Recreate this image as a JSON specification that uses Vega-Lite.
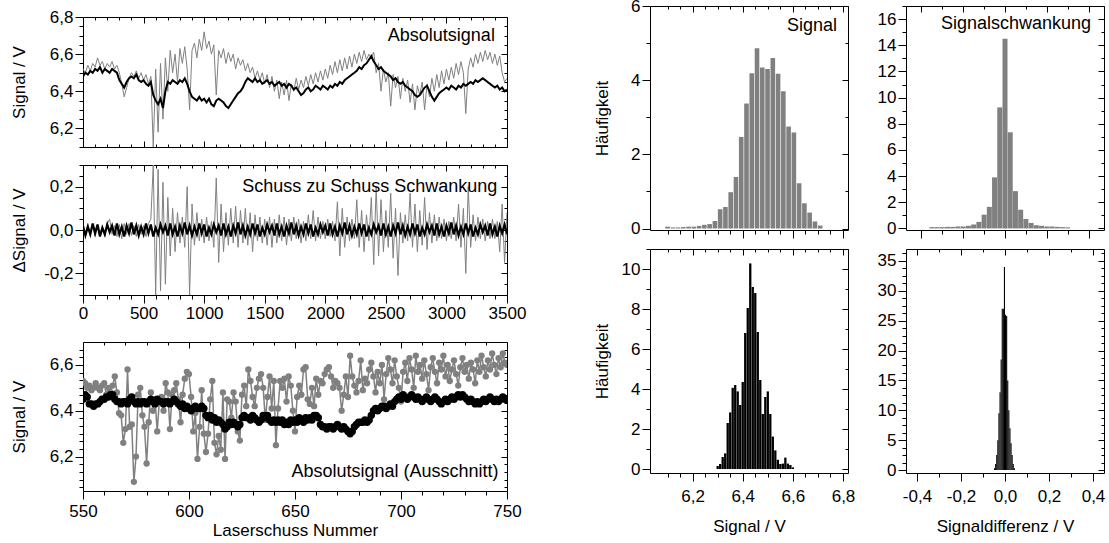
{
"$schema":"https://vega.github.io/schema/vega-lite/v6.json",
"padding":{"left":9,"top":-4,"right":0,"bottom":0},
"spacing":65,
"config":{
 "font":"Liberation Sans",
 "view":{"stroke":"#000","strokeWidth":1},
 "axis":{"domain":false,"grid":false,"tickColor":"#000","tickWidth":1,"labelFont":"Liberation Sans","labelFontSize":17,"labelColor":"#000","labelPadding":2,"labelOverlap":false,"labelFlush":false,"labelBound":false,"titleFont":"Liberation Sans","titleFontSize":17,"titleFontWeight":"normal","titleColor":"#000"},
 "text":{"font":"Liberation Sans","fontSize":18,"color":"#000"}
},
"datasets":{
"ts":[
{"x":0,"g":6.52,"b":6.48,"dg":0.02,"db":0.02},{"x":20,"g":6.50,"b":6.50,"dg":-0.02,"db":-0.025},{"x":40,"g":6.54,"b":6.49,"dg":0.03,"db":0.015},{"x":60,"g":6.51,"b":6.51,"dg":-0.025,"db":-0.02},{"x":80,"g":6.55,"b":6.50,"dg":0.02,"db":0.03},{"x":100,"g":6.53,"b":6.52,"dg":-0.03,"db":-0.015},{"x":120,"g":6.58,"b":6.51,"dg":0.025,"db":0.025},{"x":140,"g":6.54,"b":6.53,"dg":-0.02,"db":-0.03},{"x":160,"g":6.56,"b":6.50,"dg":0.02,"db":0.01},{"x":180,"g":6.52,"b":6.52,"dg":-0.03,"db":-0.02},
{"x":200,"g":6.55,"b":6.51,"dg":0.03,"db":0.025},{"x":220,"g":6.53,"b":6.50,"dg":0.05,"db":-0.01},{"x":240,"g":6.56,"b":6.52,"dg":-0.02,"db":0.02},{"x":260,"g":6.52,"b":6.51,"dg":0.02,"db":-0.025},{"x":280,"g":6.54,"b":6.50,"dg":-0.03,"db":0.03},{"x":300,"g":6.50,"b":6.46,"dg":0.025,"db":-0.02},{"x":320,"g":6.44,"b":6.44,"dg":-0.04,"db":0.015},{"x":340,"g":6.37,"b":6.42,"dg":0.03,"db":-0.03},{"x":360,"g":6.42,"b":6.45,"dg":-0.02,"db":0.02},{"x":380,"g":6.47,"b":6.47,"dg":0.03,"db":-0.015},
{"x":400,"g":6.50,"b":6.48,"dg":-0.025,"db":0.035},{"x":420,"g":6.48,"b":6.47,"dg":0.02,"db":-0.02},{"x":440,"g":6.51,"b":6.49,"dg":-0.03,"db":0.02},{"x":460,"g":6.47,"b":6.46,"dg":0.025,"db":-0.025},{"x":480,"g":6.50,"b":6.45,"dg":-0.02,"db":0.015},{"x":500,"g":6.46,"b":6.46,"dg":0.02,"db":-0.02},{"x":520,"g":6.49,"b":6.44,"dg":-0.03,"db":0.03},{"x":540,"g":6.44,"b":6.43,"dg":0.03,"db":-0.015},{"x":560,"g":6.48,"b":6.45,"dg":0.05,"db":0.025},{"x":580,"g":6.10,"b":6.38,"dg":0.30,"db":-0.03},
{"x":600,"g":6.52,"b":6.35,"dg":-0.30,"db":0.01},{"x":620,"g":6.18,"b":6.33,"dg":0.28,"db":-0.02},{"x":640,"g":6.55,"b":6.36,"dg":-0.28,"db":0.025},{"x":660,"g":6.25,"b":6.31,"dg":0.22,"db":-0.01},{"x":680,"g":6.58,"b":6.40,"dg":-0.25,"db":0.02},{"x":700,"g":6.40,"b":6.45,"dg":0.15,"db":-0.025},{"x":720,"g":6.62,"b":6.44,"dg":-0.12,"db":0.03},{"x":740,"g":6.50,"b":6.46,"dg":0.10,"db":-0.02},{"x":760,"g":6.60,"b":6.45,"dg":-0.10,"db":0.015},{"x":780,"g":6.45,"b":6.44,"dg":0.08,"db":-0.03},
{"x":800,"g":6.63,"b":6.46,"dg":-0.06,"db":0.02},{"x":820,"g":6.55,"b":6.45,"dg":0.06,"db":-0.015},{"x":840,"g":6.64,"b":6.47,"dg":-0.08,"db":0.035},{"x":860,"g":6.52,"b":6.44,"dg":0.20,"db":-0.02},{"x":880,"g":6.30,"b":6.40,"dg":-0.30,"db":0.02},{"x":900,"g":6.62,"b":6.37,"dg":0.12,"db":-0.025},{"x":920,"g":6.66,"b":6.36,"dg":-0.07,"db":0.015},{"x":940,"g":6.58,"b":6.35,"dg":0.08,"db":-0.02},{"x":960,"g":6.68,"b":6.37,"dg":-0.05,"db":0.03},{"x":980,"g":6.62,"b":6.35,"dg":0.05,"db":-0.015},
{"x":1000,"g":6.72,"b":6.36,"dg":-0.06,"db":0.025},{"x":1020,"g":6.63,"b":6.34,"dg":0.06,"db":-0.03},{"x":1040,"g":6.67,"b":6.36,"dg":-0.05,"db":0.01},{"x":1060,"g":6.60,"b":6.33,"dg":0.04,"db":-0.02},{"x":1080,"g":6.65,"b":6.32,"dg":-0.08,"db":0.025},{"x":1100,"g":6.38,"b":6.35,"dg":0.24,"db":-0.01},{"x":1120,"g":6.62,"b":6.36,"dg":-0.15,"db":0.02},{"x":1140,"g":6.58,"b":6.35,"dg":0.12,"db":-0.025},{"x":1160,"g":6.63,"b":6.34,"dg":-0.10,"db":0.03},{"x":1180,"g":6.55,"b":6.32,"dg":0.08,"db":-0.02},
{"x":1200,"g":6.61,"b":6.31,"dg":-0.07,"db":0.015},{"x":1220,"g":6.56,"b":6.33,"dg":0.10,"db":-0.03},{"x":1240,"g":6.60,"b":6.35,"dg":-0.06,"db":0.02},{"x":1260,"g":6.52,"b":6.37,"dg":0.11,"db":-0.015},{"x":1280,"g":6.58,"b":6.39,"dg":-0.08,"db":0.035},{"x":1300,"g":6.54,"b":6.40,"dg":0.09,"db":-0.02},{"x":1320,"g":6.57,"b":6.42,"dg":-0.06,"db":0.02},{"x":1340,"g":6.51,"b":6.45,"dg":0.10,"db":-0.025},{"x":1360,"g":6.55,"b":6.47,"dg":-0.07,"db":0.015},{"x":1380,"g":6.50,"b":6.46,"dg":0.08,"db":-0.02},
{"x":1400,"g":6.53,"b":6.45,"dg":-0.10,"db":0.03},{"x":1420,"g":6.47,"b":6.47,"dg":0.07,"db":-0.015},{"x":1440,"g":6.51,"b":6.45,"dg":-0.05,"db":0.025},{"x":1460,"g":6.46,"b":6.46,"dg":0.06,"db":-0.03},{"x":1480,"g":6.50,"b":6.44,"dg":-0.06,"db":0.01},{"x":1500,"g":6.44,"b":6.45,"dg":0.05,"db":-0.02},{"x":1520,"g":6.49,"b":6.46,"dg":-0.07,"db":0.025},{"x":1540,"g":6.42,"b":6.44,"dg":0.06,"db":-0.01},{"x":1560,"g":6.48,"b":6.45,"dg":-0.08,"db":0.02},{"x":1580,"g":6.40,"b":6.43,"dg":0.05,"db":-0.025},
{"x":1600,"g":6.46,"b":6.44,"dg":-0.06,"db":0.03},{"x":1620,"g":6.36,"b":6.45,"dg":0.07,"db":-0.02},{"x":1640,"g":6.45,"b":6.43,"dg":-0.05,"db":0.015},{"x":1660,"g":6.38,"b":6.44,"dg":0.06,"db":-0.03},{"x":1680,"g":6.46,"b":6.42,"dg":-0.07,"db":0.02},{"x":1700,"g":6.35,"b":6.44,"dg":0.05,"db":-0.015},{"x":1720,"g":6.44,"b":6.43,"dg":-0.05,"db":0.035},{"x":1740,"g":6.40,"b":6.41,"dg":0.06,"db":-0.02},{"x":1760,"g":6.47,"b":6.42,"dg":-0.04,"db":0.02},{"x":1780,"g":6.41,"b":6.40,"dg":0.05,"db":-0.025},
{"x":1800,"g":6.46,"b":6.38,"dg":-0.06,"db":0.015},{"x":1820,"g":6.42,"b":6.39,"dg":0.04,"db":-0.02},{"x":1840,"g":6.48,"b":6.41,"dg":-0.05,"db":0.03},{"x":1860,"g":6.43,"b":6.42,"dg":0.07,"db":-0.015},{"x":1880,"g":6.49,"b":6.40,"dg":-0.04,"db":0.025},{"x":1900,"g":6.44,"b":6.41,"dg":0.09,"db":-0.03},{"x":1920,"g":6.50,"b":6.43,"dg":-0.05,"db":0.01},{"x":1940,"g":6.45,"b":6.42,"dg":0.06,"db":-0.02},{"x":1960,"g":6.51,"b":6.41,"dg":-0.04,"db":0.025},{"x":1980,"g":6.46,"b":6.43,"dg":0.04,"db":-0.01},
{"x":2000,"g":6.52,"b":6.42,"dg":-0.04,"db":0.02},{"x":2020,"g":6.47,"b":6.41,"dg":0.05,"db":-0.025},{"x":2040,"g":6.54,"b":6.43,"dg":-0.03,"db":0.03},{"x":2060,"g":6.49,"b":6.42,"dg":0.04,"db":-0.02},{"x":2080,"g":6.56,"b":6.44,"dg":-0.05,"db":0.015},{"x":2100,"g":6.50,"b":6.43,"dg":0.13,"db":-0.03},{"x":2120,"g":6.57,"b":6.45,"dg":-0.12,"db":0.02},{"x":2140,"g":6.51,"b":6.44,"dg":0.10,"db":-0.015},{"x":2160,"g":6.58,"b":6.46,"dg":-0.08,"db":0.035},{"x":2180,"g":6.52,"b":6.47,"dg":0.06,"db":-0.02},
{"x":2200,"g":6.59,"b":6.48,"dg":-0.05,"db":0.02},{"x":2220,"g":6.53,"b":6.49,"dg":0.05,"db":-0.025},{"x":2240,"g":6.60,"b":6.50,"dg":-0.04,"db":0.015},{"x":2260,"g":6.55,"b":6.51,"dg":0.14,"db":-0.02},{"x":2280,"g":6.61,"b":6.53,"dg":-0.08,"db":0.03},{"x":2300,"g":6.56,"b":6.52,"dg":0.09,"db":-0.015},{"x":2320,"g":6.62,"b":6.54,"dg":-0.10,"db":0.025},{"x":2340,"g":6.57,"b":6.55,"dg":0.07,"db":-0.03},{"x":2360,"g":6.60,"b":6.57,"dg":-0.05,"db":0.01},{"x":2380,"g":6.58,"b":6.59,"dg":0.15,"db":-0.02},
{"x":2400,"g":6.61,"b":6.56,"dg":-0.16,"db":0.025},{"x":2420,"g":6.50,"b":6.54,"dg":0.20,"db":-0.01},{"x":2440,"g":6.55,"b":6.52,"dg":-0.12,"db":0.02},{"x":2460,"g":6.40,"b":6.53,"dg":0.14,"db":-0.025},{"x":2480,"g":6.52,"b":6.51,"dg":-0.10,"db":0.03},{"x":2500,"g":6.45,"b":6.50,"dg":0.09,"db":-0.02},{"x":2520,"g":6.50,"b":6.49,"dg":-0.08,"db":0.015},{"x":2540,"g":6.32,"b":6.48,"dg":0.17,"db":-0.03},{"x":2560,"g":6.49,"b":6.46,"dg":-0.13,"db":0.02},{"x":2580,"g":6.42,"b":6.47,"dg":0.10,"db":-0.015},
{"x":2600,"g":6.48,"b":6.45,"dg":-0.21,"db":0.035},{"x":2620,"g":6.36,"b":6.44,"dg":0.08,"db":-0.02},{"x":2640,"g":6.47,"b":6.45,"dg":-0.06,"db":0.02},{"x":2660,"g":6.40,"b":6.43,"dg":0.07,"db":-0.025},{"x":2680,"g":6.46,"b":6.42,"dg":-0.05,"db":0.015},{"x":2700,"g":6.34,"b":6.41,"dg":0.17,"db":-0.02},{"x":2720,"g":6.44,"b":6.40,"dg":-0.08,"db":0.03},{"x":2740,"g":6.30,"b":6.38,"dg":0.12,"db":-0.015},{"x":2760,"g":6.43,"b":6.37,"dg":-0.10,"db":0.025},{"x":2780,"g":6.38,"b":6.38,"dg":0.09,"db":-0.03},
{"x":2800,"g":6.45,"b":6.40,"dg":-0.07,"db":0.01},{"x":2820,"g":6.30,"b":6.42,"dg":0.15,"db":-0.02},{"x":2840,"g":6.44,"b":6.43,"dg":-0.09,"db":0.025},{"x":2860,"g":6.37,"b":6.40,"dg":0.08,"db":-0.01},{"x":2880,"g":6.47,"b":6.37,"dg":-0.06,"db":0.02},{"x":2900,"g":6.40,"b":6.35,"dg":0.07,"db":-0.025},{"x":2920,"g":6.49,"b":6.37,"dg":-0.05,"db":0.03},{"x":2940,"g":6.42,"b":6.39,"dg":0.06,"db":-0.02},{"x":2960,"g":6.51,"b":6.40,"dg":-0.04,"db":0.015},{"x":2980,"g":6.44,"b":6.41,"dg":0.05,"db":-0.03},
{"x":3000,"g":6.52,"b":6.42,"dg":-0.05,"db":0.02},{"x":3020,"g":6.46,"b":6.41,"dg":0.04,"db":-0.015},{"x":3040,"g":6.53,"b":6.43,"dg":-0.04,"db":0.035},{"x":3060,"g":6.47,"b":6.42,"dg":0.06,"db":-0.02},{"x":3080,"g":6.55,"b":6.41,"dg":-0.05,"db":0.02},{"x":3100,"g":6.49,"b":6.43,"dg":0.12,"db":-0.025},{"x":3120,"g":6.56,"b":6.42,"dg":-0.08,"db":0.015},{"x":3140,"g":6.50,"b":6.44,"dg":0.10,"db":-0.02},{"x":3160,"g":6.28,"b":6.43,"dg":-0.20,"db":0.03},{"x":3180,"g":6.52,"b":6.44,"dg":0.20,"db":-0.015},
{"x":3200,"g":6.58,"b":6.45,"dg":-0.08,"db":0.025},{"x":3220,"g":6.53,"b":6.44,"dg":0.07,"db":-0.03},{"x":3240,"g":6.60,"b":6.46,"dg":-0.05,"db":0.01},{"x":3260,"g":6.55,"b":6.45,"dg":0.06,"db":-0.02},{"x":3280,"g":6.61,"b":6.46,"dg":-0.04,"db":0.025},{"x":3300,"g":6.56,"b":6.47,"dg":0.05,"db":-0.01},{"x":3320,"g":6.62,"b":6.46,"dg":-0.05,"db":0.02},{"x":3340,"g":6.57,"b":6.45,"dg":0.04,"db":-0.025},{"x":3360,"g":6.61,"b":6.44,"dg":-0.04,"db":0.03},{"x":3380,"g":6.55,"b":6.43,"dg":0.05,"db":-0.02},
{"x":3400,"g":6.60,"b":6.42,"dg":-0.04,"db":0.015},{"x":3420,"g":6.54,"b":6.43,"dg":0.04,"db":-0.03},{"x":3440,"g":6.59,"b":6.41,"dg":-0.10,"db":0.02},{"x":3460,"g":6.50,"b":6.42,"dg":0.12,"db":-0.015},{"x":3480,"g":6.45,"b":6.40,"dg":-0.15,"db":0.025},{"x":3500,"g":6.47,"b":6.41,"dg":0.08,"db":-0.02}
],
"zm":[
{"x":550,"g":6.53,"b":6.45},{"x":551,"g":6.52,"b":6.47},{"x":552,"g":6.50,"b":6.46},{"x":553,"g":6.51,"b":6.43},{"x":554,"g":6.49,"b":6.43},{"x":555,"g":6.50,"b":6.42},{"x":556,"g":6.52,"b":6.43},{"x":557,"g":6.50,"b":6.43},{"x":558,"g":6.49,"b":6.44},{"x":559,"g":6.51,"b":6.45},
{"x":560,"g":6.52,"b":6.45},{"x":561,"g":6.47,"b":6.46},{"x":562,"g":6.50,"b":6.46},{"x":563,"g":6.48,"b":6.47},{"x":564,"g":6.51,"b":6.47},{"x":565,"g":6.55,"b":6.45},{"x":566,"g":6.48,"b":6.44},{"x":567,"g":6.39,"b":6.44},{"x":568,"g":6.38,"b":6.43},{"x":569,"g":6.26,"b":6.44},
{"x":570,"g":6.32,"b":6.44},{"x":571,"g":6.58,"b":6.43},{"x":572,"g":6.33,"b":6.45},{"x":573,"g":6.34,"b":6.46},{"x":574,"g":6.09,"b":6.44},{"x":575,"g":6.20,"b":6.43},{"x":576,"g":6.47,"b":6.44},{"x":577,"g":6.50,"b":6.43},{"x":578,"g":6.38,"b":6.44},{"x":579,"g":6.33,"b":6.44},
{"x":580,"g":6.17,"b":6.43},{"x":581,"g":6.35,"b":6.44},{"x":582,"g":6.48,"b":6.45},{"x":583,"g":6.40,"b":6.44},{"x":584,"g":6.45,"b":6.43},{"x":585,"g":6.31,"b":6.45},{"x":586,"g":6.44,"b":6.44},{"x":587,"g":6.46,"b":6.44},{"x":588,"g":6.40,"b":6.43},{"x":589,"g":6.52,"b":6.44},
{"x":590,"g":6.48,"b":6.44},{"x":591,"g":6.32,"b":6.43},{"x":592,"g":6.47,"b":6.44},{"x":593,"g":6.49,"b":6.45},{"x":594,"g":6.52,"b":6.44},{"x":595,"g":6.45,"b":6.43},{"x":596,"g":6.35,"b":6.42},{"x":597,"g":6.47,"b":6.43},{"x":598,"g":6.54,"b":6.41},{"x":599,"g":6.57,"b":6.42},
{"x":600,"g":6.56,"b":6.41},{"x":601,"g":6.46,"b":6.40},{"x":602,"g":6.31,"b":6.41},{"x":603,"g":6.39,"b":6.42},{"x":604,"g":6.19,"b":6.41},{"x":605,"g":6.33,"b":6.41},{"x":606,"g":6.49,"b":6.42},{"x":607,"g":6.30,"b":6.41},{"x":608,"g":6.22,"b":6.38},{"x":609,"g":6.30,"b":6.37},
{"x":610,"g":6.45,"b":6.38},{"x":611,"g":6.53,"b":6.36},{"x":612,"g":6.26,"b":6.37},{"x":613,"g":6.21,"b":6.35},{"x":614,"g":6.29,"b":6.36},{"x":615,"g":6.23,"b":6.35},{"x":616,"g":6.48,"b":6.34},{"x":617,"g":6.19,"b":6.32},{"x":618,"g":6.45,"b":6.33},{"x":619,"g":6.44,"b":6.35},
{"x":620,"g":6.37,"b":6.34},{"x":621,"g":6.48,"b":6.35},{"x":622,"g":6.44,"b":6.34},{"x":623,"g":6.31,"b":6.33},{"x":624,"g":6.27,"b":6.34},{"x":625,"g":6.47,"b":6.37},{"x":626,"g":6.51,"b":6.38},{"x":627,"g":6.42,"b":6.37},{"x":628,"g":6.58,"b":6.37},{"x":629,"g":6.53,"b":6.36},
{"x":630,"g":6.46,"b":6.38},{"x":631,"g":6.42,"b":6.37},{"x":632,"g":6.50,"b":6.36},{"x":633,"g":6.54,"b":6.35},{"x":634,"g":6.56,"b":6.36},{"x":635,"g":6.50,"b":6.38},{"x":636,"g":6.36,"b":6.37},{"x":637,"g":6.46,"b":6.38},{"x":638,"g":6.55,"b":6.36},{"x":639,"g":6.41,"b":6.35},
{"x":640,"g":6.53,"b":6.36},{"x":641,"g":6.25,"b":6.35},{"x":642,"g":6.41,"b":6.36},{"x":643,"g":6.53,"b":6.35},{"x":644,"g":6.50,"b":6.36},{"x":645,"g":6.54,"b":6.34},{"x":646,"g":6.44,"b":6.35},{"x":647,"g":6.55,"b":6.34},{"x":648,"g":6.51,"b":6.36},{"x":649,"g":6.40,"b":6.35},
{"x":650,"g":6.31,"b":6.36},{"x":651,"g":6.46,"b":6.35},{"x":652,"g":6.51,"b":6.37},{"x":653,"g":6.47,"b":6.36},{"x":654,"g":6.58,"b":6.35},{"x":655,"g":6.59,"b":6.37},{"x":656,"g":6.45,"b":6.36},{"x":657,"g":6.43,"b":6.37},{"x":658,"g":6.50,"b":6.36},{"x":659,"g":6.42,"b":6.38},
{"x":660,"g":6.54,"b":6.38},{"x":661,"g":6.47,"b":6.37},{"x":662,"g":6.53,"b":6.34},{"x":663,"g":6.52,"b":6.33},{"x":664,"g":6.56,"b":6.33},{"x":665,"g":6.58,"b":6.32},{"x":666,"g":6.59,"b":6.33},{"x":667,"g":6.55,"b":6.33},{"x":668,"g":6.50,"b":6.32},{"x":669,"g":6.53,"b":6.33},
{"x":670,"g":6.52,"b":6.34},{"x":671,"g":6.50,"b":6.33},{"x":672,"g":6.40,"b":6.32},{"x":673,"g":6.47,"b":6.33},{"x":674,"g":6.55,"b":6.32},{"x":675,"g":6.46,"b":6.31},{"x":676,"g":6.64,"b":6.30},{"x":677,"g":6.55,"b":6.31},{"x":678,"g":6.51,"b":6.33},{"x":679,"g":6.48,"b":6.34},
{"x":680,"g":6.53,"b":6.35},{"x":681,"g":6.62,"b":6.35},{"x":682,"g":6.49,"b":6.35},{"x":683,"g":6.54,"b":6.36},{"x":684,"g":6.52,"b":6.35},{"x":685,"g":6.58,"b":6.36},{"x":686,"g":6.61,"b":6.38},{"x":687,"g":6.55,"b":6.40},{"x":688,"g":6.48,"b":6.41},{"x":689,"g":6.57,"b":6.40},
{"x":690,"g":6.52,"b":6.41},{"x":691,"g":6.60,"b":6.42},{"x":692,"g":6.45,"b":6.42},{"x":693,"g":6.56,"b":6.41},{"x":694,"g":6.63,"b":6.42},{"x":695,"g":6.58,"b":6.43},{"x":696,"g":6.52,"b":6.42},{"x":697,"g":6.62,"b":6.44},{"x":698,"g":6.55,"b":6.45},{"x":699,"g":6.50,"b":6.46},
{"x":700,"g":6.44,"b":6.45},{"x":701,"g":6.57,"b":6.47},{"x":702,"g":6.61,"b":6.46},{"x":703,"g":6.53,"b":6.45},{"x":704,"g":6.63,"b":6.46},{"x":705,"g":6.58,"b":6.47},{"x":706,"g":6.50,"b":6.46},{"x":707,"g":6.64,"b":6.45},{"x":708,"g":6.57,"b":6.46},{"x":709,"g":6.60,"b":6.45},
{"x":710,"g":6.54,"b":6.44},{"x":711,"g":6.62,"b":6.45},{"x":712,"g":6.56,"b":6.46},{"x":713,"g":6.49,"b":6.45},{"x":714,"g":6.59,"b":6.44},{"x":715,"g":6.63,"b":6.45},{"x":716,"g":6.57,"b":6.46},{"x":717,"g":6.52,"b":6.45},{"x":718,"g":6.61,"b":6.44},{"x":719,"g":6.58,"b":6.43},
{"x":720,"g":6.64,"b":6.44},{"x":721,"g":6.55,"b":6.45},{"x":722,"g":6.60,"b":6.44},{"x":723,"g":6.53,"b":6.45},{"x":724,"g":6.58,"b":6.46},{"x":725,"g":6.62,"b":6.45},{"x":726,"g":6.56,"b":6.46},{"x":727,"g":6.51,"b":6.47},{"x":728,"g":6.59,"b":6.46},{"x":729,"g":6.63,"b":6.47},
{"x":730,"g":6.57,"b":6.46},{"x":731,"g":6.60,"b":6.45},{"x":732,"g":6.54,"b":6.44},{"x":733,"g":6.61,"b":6.45},{"x":734,"g":6.58,"b":6.44},{"x":735,"g":6.52,"b":6.43},{"x":736,"g":6.62,"b":6.44},{"x":737,"g":6.57,"b":6.43},{"x":738,"g":6.64,"b":6.44},{"x":739,"g":6.59,"b":6.45},
{"x":740,"g":6.55,"b":6.44},{"x":741,"g":6.62,"b":6.45},{"x":742,"g":6.58,"b":6.46},{"x":743,"g":6.65,"b":6.45},{"x":744,"g":6.60,"b":6.44},{"x":745,"g":6.56,"b":6.45},{"x":746,"g":6.63,"b":6.44},{"x":747,"g":6.59,"b":6.45},{"x":748,"g":6.65,"b":6.46},{"x":749,"g":6.61,"b":6.45},
{"x":750,"g":6.60,"b":6.45}
],
"h1":[
{"c":6.100,"n":0.05},{"c":6.121,"n":0.03},{"c":6.142,"n":0.03},{"c":6.163,"n":0.04},{"c":6.184,"n":0.05},{"c":6.205,"n":0.05},{"c":6.226,"n":0.07},{"c":6.247,"n":0.1},{"c":6.268,"n":0.12},{"c":6.289,"n":0.2},
{"c":6.310,"n":0.52},{"c":6.331,"n":0.58},{"c":6.352,"n":0.98},{"c":6.373,"n":1.39},{"c":6.394,"n":2.47},{"c":6.415,"n":3.37},{"c":6.436,"n":4.19},{"c":6.457,"n":4.86},{"c":6.478,"n":4.34},{"c":6.499,"n":4.3},
{"c":6.520,"n":4.6},{"c":6.541,"n":4.17},{"c":6.562,"n":3.7},{"c":6.583,"n":2.75},{"c":6.604,"n":2.59},{"c":6.625,"n":1.22},{"c":6.646,"n":0.68},{"c":6.667,"n":0.43},{"c":6.688,"n":0.19},{"c":6.709,"n":0.08}
],
"h2":[
{"c":-0.35,"n":0.1},{"c":-0.325,"n":0.1},{"c":-0.3,"n":0.1},{"c":-0.275,"n":0.12},{"c":-0.25,"n":0.12},{"c":-0.225,"n":0.15},{"c":-0.2,"n":0.15},{"c":-0.175,"n":0.2},{"c":-0.15,"n":0.3},{"c":-0.125,"n":0.5},
{"c":-0.1,"n":1.05},{"c":-0.075,"n":1.65},{"c":-0.05,"n":3.9},{"c":-0.025,"n":9.25},{"c":0,"n":14.5},{"c":0.025,"n":7.35},{"c":0.05,"n":2.85},{"c":0.075,"n":1.43},{"c":0.1,"n":0.72},{"c":0.125,"n":0.42},
{"c":0.15,"n":0.25},{"c":0.175,"n":0.2},{"c":0.2,"n":0.15},{"c":0.225,"n":0.15},{"c":0.25,"n":0.12},{"c":0.275,"n":0.1},{"c":0.3,"n":0.08}
],
"h3":[
{"c":6.30,"n":0.15},{"c":6.31,"n":0.25},{"c":6.32,"n":0.6},{"c":6.33,"n":0.78},{"c":6.34,"n":2.3},{"c":6.35,"n":2.83},{"c":6.36,"n":4.06},{"c":6.37,"n":4.2},{"c":6.38,"n":3.88},{"c":6.39,"n":3.2},
{"c":6.40,"n":4.35},{"c":6.41,"n":6.8},{"c":6.42,"n":8.05},{"c":6.43,"n":10.28},{"c":6.44,"n":9.1},{"c":6.45,"n":8.8},{"c":6.46,"n":6.85},{"c":6.47,"n":4.45},{"c":6.48,"n":2.75},{"c":6.49,"n":3.6},
{"c":6.50,"n":3.88},{"c":6.51,"n":2.75},{"c":6.52,"n":1.62},{"c":6.53,"n":0.93},{"c":6.54,"n":0.46},{"c":6.55,"n":0.25},{"c":6.56,"n":0.27},{"c":6.57,"n":0.57},{"c":6.58,"n":0.27},{"c":6.59,"n":0.2},{"c":6.60,"n":0.08}
],
"h4":[
{"lo":-0.050,"hi":-0.045,"n":0.3},{"lo":-0.045,"hi":-0.040,"n":1.0},{"lo":-0.040,"hi":-0.035,"n":2.5},{"lo":-0.035,"hi":-0.030,"n":5},{"lo":-0.030,"hi":-0.025,"n":9.5},{"lo":-0.025,"hi":-0.020,"n":13},{"lo":-0.020,"hi":-0.015,"n":18.5},{"lo":-0.015,"hi":-0.010,"n":27},{"lo":-0.010,"hi":-0.005,"n":27},{"lo":-0.005,"hi":0.000,"n":34},
{"lo":0.000,"hi":0.005,"n":26},{"lo":0.005,"hi":0.010,"n":25.8},{"lo":0.010,"hi":0.015,"n":15},{"lo":0.015,"hi":0.020,"n":10},{"lo":0.020,"hi":0.025,"n":7},{"lo":0.025,"hi":0.030,"n":4.5},{"lo":0.030,"hi":0.035,"n":2.5},{"lo":0.035,"hi":0.040,"n":1},{"lo":0.040,"hi":0.045,"n":0.3}
]
},
"hconcat":[
{"vconcat":[
 {"width":424,"height":11,"view":{"stroke":null},"data":{"values":[{"s":0}]},"mark":{"type":"point","opacity":0},"encoding":{}},
 {"width":424,"height":130,"data":{"name":"ts"},
  "layer":[
   {"mark":{"type":"line","color":"#808080","strokeWidth":1,"clip":true},
    "encoding":{
     "x":{"field":"x","type":"quantitative","scale":{"domain":[0,3500],"nice":false,"zero":false},"axis":{"orient":"top","values":[0,100,200,300,400,500,600,700,800,900,1000,1100,1200,1300,1400,1500,1600,1700,1800,1900,2000,2100,2200,2300,2400,2500,2600,2700,2800,2900,3000,3100,3200,3300,3400,3500],"labels":false,"title":null,"tickSize":{"condition":{"test":"datum.value % 500 === 0","value":-6},"value":-3}}},
     "y":{"field":"g","type":"quantitative","scale":{"domain":[6.1,6.8],"nice":false,"zero":false},"axis":{"orient":"right","values":[6.1,6.15,6.2,6.25,6.3,6.35,6.4,6.45,6.5,6.55,6.6,6.65,6.7,6.75,6.8],"labels":false,"title":null,"tickSize":{"condition":{"test":"abs(datum.value*5-round(datum.value*5))<0.001","value":-6},"value":-3}}}}},
   {"mark":{"type":"line","color":"#000","strokeWidth":2,"clip":true},
    "encoding":{
     "x":{"field":"x","type":"quantitative","axis":{"orient":"bottom","values":[0,100,200,300,400,500,600,700,800,900,1000,1100,1200,1300,1400,1500,1600,1700,1800,1900,2000,2100,2200,2300,2400,2500,2600,2700,2800,2900,3000,3100,3200,3300,3400,3500],"labels":false,"title":null,"tickSize":{"condition":{"test":"datum.value % 500 === 0","value":-6},"value":-3}}},
     "y":{"field":"b","type":"quantitative","axis":{"orient":"left","values":[6.1,6.15,6.2,6.25,6.3,6.35,6.4,6.45,6.5,6.55,6.6,6.65,6.7,6.75,6.8],"title":"Signal / V","titleX":-55,"labelExpr":"abs(datum.value*5-round(datum.value*5))<0.001 ? replace(format(datum.value,'.1f'),'.',',') : ''","tickSize":{"condition":{"test":"abs(datum.value*5-round(datum.value*5))<0.001","value":8},"value":4}}}}},
   {"data":{"values":[{"tx":3400,"ty":6.70,"t":"Absolutsignal"}]},"mark":{"type":"text","align":"right","baseline":"middle"},
    "encoding":{"x":{"field":"tx","type":"quantitative","axis":null},"y":{"field":"ty","type":"quantitative","axis":null},"text":{"field":"t"}}}
  ],
  "resolve":{"axis":{"x":"independent","y":"independent"}}},
 {"width":424,"height":18,"view":{"stroke":null},"data":{"values":[{"s":0}]},"mark":{"type":"point","opacity":0},"encoding":{}},
 {"width":424,"height":130,"data":{"name":"ts"},
  "layer":[
   {"mark":{"type":"line","color":"#808080","strokeWidth":1,"clip":true},
    "encoding":{
     "x":{"field":"x","type":"quantitative","scale":{"domain":[0,3500],"nice":false,"zero":false},"axis":{"orient":"top","values":[0,100,200,300,400,500,600,700,800,900,1000,1100,1200,1300,1400,1500,1600,1700,1800,1900,2000,2100,2200,2300,2400,2500,2600,2700,2800,2900,3000,3100,3200,3300,3400,3500],"labels":false,"title":null,"tickSize":{"condition":{"test":"datum.value % 500 === 0","value":-6},"value":-3}}},
     "y":{"field":"dg","type":"quantitative","scale":{"domain":[-0.3,0.3],"nice":false,"zero":false},"axis":{"orient":"right","values":[-0.3,-0.25,-0.2,-0.15,-0.1,-0.05,0,0.05,0.1,0.15,0.2,0.25,0.3],"labels":false,"title":null,"tickSize":{"condition":{"test":"abs(datum.value*5-round(datum.value*5))<0.001","value":-6},"value":-3}}}}},
   {"mark":{"type":"line","color":"#000","strokeWidth":2.2,"clip":true},
    "encoding":{
     "x":{"field":"x","type":"quantitative","axis":{"orient":"bottom","values":[0,100,200,300,400,500,600,700,800,900,1000,1100,1200,1300,1400,1500,1600,1700,1800,1900,2000,2100,2200,2300,2400,2500,2600,2700,2800,2900,3000,3100,3200,3300,3400,3500],"title":null,"labelExpr":"datum.value % 500 === 0 ? format(datum.value,'d') : ''","tickSize":{"condition":{"test":"datum.value % 500 === 0","value":8},"value":4}}},
     "y":{"field":"db","type":"quantitative","axis":{"orient":"left","values":[-0.3,-0.25,-0.2,-0.15,-0.1,-0.05,0,0.05,0.1,0.15,0.2,0.25,0.3],"title":"ΔSignal / V","titleX":-55,"labelExpr":"abs(datum.value*5-round(datum.value*5))<0.001 ? replace(replace(format(datum.value,'.1f'),'.',','),'\u2212','-') : ''","tickSize":{"condition":{"test":"abs(datum.value*5-round(datum.value*5))<0.001","value":8},"value":4}}}}},
   {"data":{"values":[{"tx":3420,"ty":0.2,"t":"Schuss zu Schuss Schwankung"}]},"mark":{"type":"text","align":"right","baseline":"middle"},
    "encoding":{"x":{"field":"tx","type":"quantitative","axis":null},"y":{"field":"ty","type":"quantitative","axis":null},"text":{"field":"t"}}}
  ],
  "resolve":{"axis":{"x":"independent","y":"independent"}}},
 {"width":424,"height":47,"view":{"stroke":null},"data":{"values":[{"s":0}]},"mark":{"type":"point","opacity":0},"encoding":{}},
 {"width":424,"height":149,"data":{"name":"zm"},
  "layer":[
   {"mark":{"type":"line","color":"#808080","strokeWidth":1.5,"clip":true,"point":{"filled":true,"size":40,"color":"#808080"}},
    "encoding":{
     "x":{"field":"x","type":"quantitative","scale":{"domain":[550,750],"nice":false,"zero":false},"axis":{"orient":"top","values":[550,560,570,580,590,600,610,620,630,640,650,660,670,680,690,700,710,720,730,740,750],"labels":false,"title":null,"tickSize":{"condition":{"test":"datum.value % 50 === 0","value":-6},"value":-3}}},
     "y":{"field":"g","type":"quantitative","scale":{"domain":[6.05,6.7],"nice":false,"zero":false},"axis":{"orient":"right","values":[6.0667,6.1,6.1333,6.1667,6.2,6.2333,6.2667,6.3,6.3333,6.3667,6.4,6.4333,6.4667,6.5,6.5333,6.5667,6.6,6.6333,6.6667],"labels":false,"title":null,"tickSize":{"condition":{"test":"abs(datum.value*5-round(datum.value*5))<0.001","value":-6},"value":-3}}}}},
   {"mark":{"type":"circle","color":"#000","size":55,"opacity":1,"clip":true},
    "encoding":{
     "x":{"field":"x","type":"quantitative","axis":{"orient":"bottom","values":[550,560,570,580,590,600,610,620,630,640,650,660,670,680,690,700,710,720,730,740,750],"title":"Laserschuss Nummer","titleY":31,"titleBaseline":"top","labelPadding":4,"labelExpr":"datum.value % 50 === 0 ? format(datum.value,'d') : ''","tickSize":{"condition":{"test":"datum.value % 50 === 0","value":8},"value":4}}},
     "y":{"field":"b","type":"quantitative","axis":{"orient":"left","values":[6.0667,6.1,6.1333,6.1667,6.2,6.2333,6.2667,6.3,6.3333,6.3667,6.4,6.4333,6.4667,6.5,6.5333,6.5667,6.6,6.6333,6.6667],"title":"Signal / V","titleX":-55,"labelExpr":"abs(datum.value*5-round(datum.value*5))<0.001 ? replace(format(datum.value,'.1f'),'.',',') : ''","tickSize":{"condition":{"test":"abs(datum.value*5-round(datum.value*5))<0.001","value":8},"value":4}}}}},
   {"data":{"values":[{"tx":746,"ty":6.135,"t":"Absolutsignal (Ausschnitt)"}]},"mark":{"type":"text","align":"right","baseline":"middle"},
    "encoding":{"x":{"field":"tx","type":"quantitative","axis":null},"y":{"field":"ty","type":"quantitative","axis":null},"text":{"field":"t"}}}
  ],
  "resolve":{"axis":{"x":"independent","y":"independent"}}}
],"spacing":0,"bounds":"flush"},
{"concat":[
  {"width":198,"height":224,"data":{"name":"h1"},
   "layer":[
    {"mark":{"type":"bar","orient":"vertical","size":4.6,"color":"#808080"},
     "encoding":{
      "x":{"field":"c","type":"quantitative","scale":{"domain":[6.05,6.8],"nice":false,"zero":false},"axis":{"orient":"bottom","values":[6.1,6.15,6.2,6.25,6.3,6.35,6.4,6.45,6.5,6.55,6.6,6.65,6.7,6.75,6.8],"labels":false,"title":null,"tickSize":{"condition":{"test":"abs(datum.value*5-round(datum.value*5))<0.001","value":8},"value":4}}},
      "y":{"field":"n","type":"quantitative","scale":{"domain":[-0.04,6],"nice":false,"zero":false},"axis":{"orient":"left","values":[0,1,2,3,4,5,6],"title":"Häufigkeit","titleX":-39,"labelExpr":"datum.value % 2 === 0 ? format(datum.value,'d') : ''","tickSize":{"condition":{"test":"datum.value % 2 === 0","value":8},"value":4}}}}},
    {"mark":{"type":"point","opacity":0},
     "encoding":{
      "x":{"field":"c","type":"quantitative","axis":{"orient":"top","values":[6.1,6.15,6.2,6.25,6.3,6.35,6.4,6.45,6.5,6.55,6.6,6.65,6.7,6.75,6.8],"labels":false,"title":null,"tickSize":{"condition":{"test":"abs(datum.value*5-round(datum.value*5))<0.001","value":-6},"value":-3}}},
      "y":{"field":"n","type":"quantitative","axis":{"orient":"right","values":[0,1,2,3,4,5,6],"labels":false,"title":null,"tickSize":{"condition":{"test":"datum.value % 2 === 0","value":-6},"value":-3}}}}},
    {"data":{"values":[{"tx":6.776,"ty":5.46,"t":"Signal"}]},"mark":{"type":"text","align":"right","baseline":"middle"},
     "encoding":{"x":{"field":"tx","type":"quantitative","axis":null},"y":{"field":"ty","type":"quantitative","axis":null},"text":{"field":"t"}}}
   ],
   "resolve":{"axis":{"x":"independent","y":"independent"}}},
  {"width":198,"height":224,"data":{"name":"h2"},
   "layer":[
    {"mark":{"type":"bar","orient":"vertical","size":5,"color":"#808080"},
     "encoding":{
      "x":{"field":"c","type":"quantitative","scale":{"domain":[-0.45,0.45],"nice":false,"zero":false},"axis":{"orient":"bottom","values":[-0.4,-0.3,-0.2,-0.1,0,0.1,0.2,0.3,0.4],"labels":false,"title":null,"tickSize":{"condition":{"test":"abs(datum.value*5-round(datum.value*5))<0.001","value":8},"value":4}}},
      "y":{"field":"n","type":"quantitative","scale":{"domain":[-0.12,17],"nice":false,"zero":false},"axis":{"orient":"left","values":[0,1,2,3,4,5,6,7,8,9,10,11,12,13,14,15,16,17],"title":null,"labelExpr":"datum.value % 2 === 0 ? format(datum.value,'d') : ''","tickSize":{"condition":{"test":"datum.value % 2 === 0","value":8},"value":4}}}}},
    {"mark":{"type":"point","opacity":0},
     "encoding":{
      "x":{"field":"c","type":"quantitative","axis":{"orient":"top","values":[-0.4,-0.3,-0.2,-0.1,0,0.1,0.2,0.3,0.4],"labels":false,"title":null,"tickSize":{"condition":{"test":"abs(datum.value*5-round(datum.value*5))<0.001","value":-6},"value":-3}}},
      "y":{"field":"n","type":"quantitative","axis":{"orient":"right","values":[0,1,2,3,4,5,6,7,8,9,10,11,12,13,14,15,16,17],"labels":false,"title":null,"tickSize":{"condition":{"test":"datum.value % 2 === 0","value":-6},"value":-3}}}}},
    {"data":{"values":[{"tx":0.412,"ty":15.6,"t":"Signalschwankung"}]},"mark":{"type":"text","align":"right","baseline":"middle"},
     "encoding":{"x":{"field":"tx","type":"quantitative","axis":null},"y":{"field":"ty","type":"quantitative","axis":null},"text":{"field":"t"}}}
   ],
   "resolve":{"axis":{"x":"independent","y":"independent"}}},
  {"width":198,"height":224,"data":{"name":"h3"},
   "layer":[
    {"mark":{"type":"bar","orient":"vertical","size":2.3,"color":"#000"},
     "encoding":{
      "x":{"field":"c","type":"quantitative","scale":{"domain":[6.05,6.8],"nice":false,"zero":false},"axis":{"orient":"bottom","values":[6.1,6.15,6.2,6.25,6.3,6.35,6.4,6.45,6.5,6.55,6.6,6.65,6.7,6.75,6.8],"title":"Signal / V","titleY":45,"titleBaseline":"top","labelPadding":7,"labelExpr":"abs(datum.value*5-round(datum.value*5))<0.001 ? replace(format(datum.value,'.1f'),'.',',') : ''","tickSize":{"condition":{"test":"abs(datum.value*5-round(datum.value*5))<0.001","value":8},"value":4}}},
      "y":{"field":"n","type":"quantitative","scale":{"domain":[-0.2,11],"nice":false,"zero":false},"axis":{"orient":"left","values":[0,1,2,3,4,5,6,7,8,9,10,11],"title":"Häufigkeit","titleX":-39,"labelExpr":"datum.value % 2 === 0 ? format(datum.value,'d') : ''","tickSize":{"condition":{"test":"datum.value % 2 === 0","value":8},"value":4}}}}},
    {"mark":{"type":"point","opacity":0},
     "encoding":{
      "x":{"field":"c","type":"quantitative","axis":{"orient":"top","values":[6.1,6.15,6.2,6.25,6.3,6.35,6.4,6.45,6.5,6.55,6.6,6.65,6.7,6.75,6.8],"labels":false,"title":null,"tickSize":{"condition":{"test":"abs(datum.value*5-round(datum.value*5))<0.001","value":-6},"value":-3}}},
      "y":{"field":"n","type":"quantitative","axis":{"orient":"right","values":[0,1,2,3,4,5,6,7,8,9,10,11],"labels":false,"title":null,"tickSize":{"condition":{"test":"datum.value % 2 === 0","value":-6},"value":-3}}}}}
   ],
   "resolve":{"axis":{"x":"independent","y":"independent"}}},
  {"width":198,"height":224,"data":{"name":"h4"},
   "layer":[
    {"mark":{"type":"bar","color":"#000"},
     "encoding":{
      "x":{"field":"lo","type":"quantitative","scale":{"domain":[-0.45,0.45],"nice":false,"zero":false},"axis":{"orient":"bottom","values":[-0.4,-0.3,-0.2,-0.1,0,0.1,0.2,0.3,0.4],"title":"Signaldifferenz / V","titleY":45,"titleBaseline":"top","labelPadding":7,"labelExpr":"abs(datum.value*5-round(datum.value*5))<0.001 ? replace(replace(format(datum.value,'.1f'),'.',','),'\u2212','-') : ''","tickSize":{"condition":{"test":"abs(datum.value*5-round(datum.value*5))<0.001","value":8},"value":4}}},
      "x2":{"field":"hi"},
      "y":{"field":"n","type":"quantitative","scale":{"domain":[-0.5,37],"nice":false,"zero":false},"axis":{"orient":"left","values":[0,1.25,2.5,3.75,5,6.25,7.5,8.75,10,11.25,12.5,13.75,15,16.25,17.5,18.75,20,21.25,22.5,23.75,25,26.25,27.5,28.75,30,31.25,32.5,33.75,35,36.25],"title":null,"labelExpr":"datum.value % 5 === 0 ? format(datum.value,'d') : ''","tickSize":{"condition":{"test":"datum.value % 5 === 0","value":8},"value":4}}},
      "y2":{"datum":0}}},
    {"mark":{"type":"point","opacity":0},
     "encoding":{
      "x":{"field":"lo","type":"quantitative","axis":{"orient":"top","values":[-0.4,-0.3,-0.2,-0.1,0,0.1,0.2,0.3,0.4],"labels":false,"title":null,"tickSize":{"condition":{"test":"abs(datum.value*5-round(datum.value*5))<0.001","value":-6},"value":-3}}},
      "y":{"field":"n","type":"quantitative","axis":{"orient":"right","values":[0,1.25,2.5,3.75,5,6.25,7.5,8.75,10,11.25,12.5,13.75,15,16.25,17.5,18.75,20,21.25,22.5,23.75,25,26.25,27.5,28.75,30,31.25,32.5,33.75,35,36.25],"labels":false,"title":null,"tickSize":{"condition":{"test":"datum.value % 5 === 0","value":-6},"value":-3}}}}}
   ],
   "resolve":{"axis":{"x":"independent","y":"independent"}}}
],"columns":2,"spacing":{"row":19,"column":58},"bounds":"flush"}
]
}
